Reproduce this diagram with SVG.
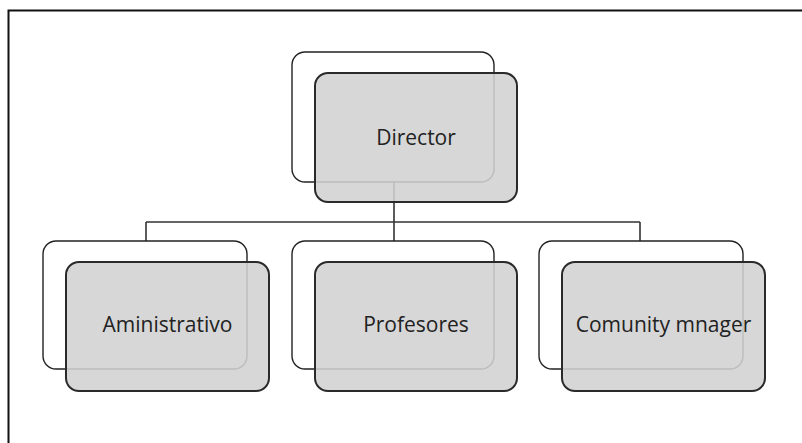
<svg xmlns="http://www.w3.org/2000/svg" width="802" height="443" viewBox="0 0 802 443">
<style>
.back{fill:#ffffff;stroke:#222;stroke-width:1.4}
.front{fill:#d2d2d2;fill-opacity:0.88;stroke:#2a2a2a;stroke-width:2}
.lbl{font-family:"Open Sans","Noto Sans",sans-serif;font-size:21px;fill:#222;text-anchor:middle}
.conn{fill:none;stroke:#333;stroke-width:1.6}
</style>
<rect x="0" y="0" width="802" height="443" fill="#ffffff"/>
<path d="M8.5,445 V10.5 H805" fill="none" stroke="#111" stroke-width="2"/>
<g id="connectors">
<path class="conn" d="M394,182 V222 M146,222 H640 M146,222 V241 M394,222 V241 M640,222 V241"/>
</g>
<g id="director">
<rect class="back" x="292" y="52" width="202" height="130" rx="13"/>
<rect class="front" x="315" y="73" width="202" height="129" rx="13"/>
<text class="lbl" x="416" y="144.5">Director</text>
</g>
<g id="aministrativo">
<rect class="back" x="43" y="241" width="204" height="128" rx="13"/>
<rect class="front" x="66" y="262" width="203" height="129" rx="13"/>
<text class="lbl" x="167.5" y="332">Aministrativo</text>
</g>
<g id="profesores">
<rect class="back" x="292" y="241" width="202" height="128" rx="13"/>
<rect class="front" x="315" y="262" width="202" height="129" rx="13"/>
<text class="lbl" x="416" y="332">Profesores</text>
</g>
<g id="comunity">
<rect class="back" x="539" y="241" width="204" height="128" rx="13"/>
<rect class="front" x="562" y="262" width="203" height="129" rx="13"/>
<text class="lbl" x="663.5" y="332">Comunity mnager</text>
</g>
</svg>
